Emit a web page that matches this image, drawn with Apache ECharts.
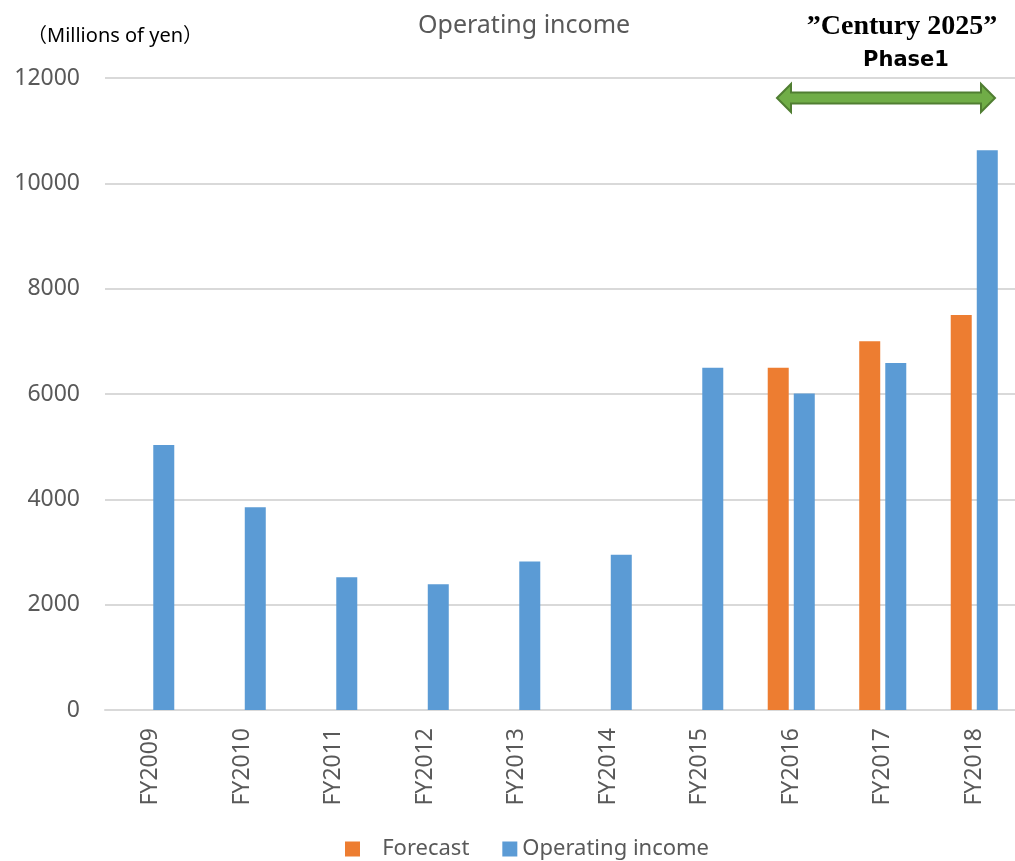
<!DOCTYPE html>
<html>
<head>
<meta charset="utf-8">
<title>Operating income</title>
<script src="https://cdn.jsdelivr.net/npm/echarts@6/dist/echarts.min.js"></script>
<style>
  html, body { margin: 0; padding: 0; background: #fff; }
  #chart { width: 1015px; height: 861px; }
</style>
</head>
<body>
<div id="chart"></div>
<script>
// data (millions of yen)
const years = ["FY2009", "FY2010", "FY2011", "FY2012", "FY2013", "FY2014", "FY2015", "FY2016", "FY2017", "FY2018"];
const forecast = [null, null, null, null, null, null, null, 6500, 7000, 7500];
const operatingIncome = [5030, 3850, 2520, 2390, 2820, 2950, 6500, 6010, 6590, 10630];
const yTicks = { min: 0, max: 12000, step: 2000 };

const SANS = "'Noto Sans', 'Noto Sans CJK JP', sans-serif";
const GREY = "#595959";

const chart = echarts.init(document.getElementById("chart"));

// green double-headed arrow for "Century 2025" phase 1
const ax0 = 777, ax1 = 995, ay = 98, head = 14, headHalf = 14, bodyHalf = 5.5;
const arrowPts = [
  [ax0, ay],
  [ax0 + head, ay - headHalf],
  [ax0 + head, ay - bodyHalf],
  [ax1 - head, ay - bodyHalf],
  [ax1 - head, ay - headHalf],
  [ax1, ay],
  [ax1 - head, ay + headHalf],
  [ax1 - head, ay + bodyHalf],
  [ax0 + head, ay + bodyHalf],
  [ax0 + head, ay + headHalf]
];

const option = {
  animation: false,
  backgroundColor: "#fff",
  // plot area runs a little past the right edge of the picture (cropped original)
  grid: {
    left: 105,
    width: 915,
    top: 78,
    height: 632,
    containLabel: false,
    outerBoundsMode: "none"
  },
  legend: {
    left: 340,
    top: 833,
    icon: "rect",
    itemWidth: 15,
    itemHeight: 15,
    itemGap: 33,
    textStyle: { fontFamily: SANS, fontSize: 22, color: GREY },
    formatter: (name) => (name === "Forecast" ? "   " + name : name),
    data: ["Forecast", "Operating income"]
  },
  xAxis: {
    type: "category",
    data: years,
    axisLine: { show: true, lineStyle: { color: "#d9d9d9", width: 2 } },
    axisTick: { show: false },
    axisLabel: {
      rotate: 90,
      margin: 18,
      fontFamily: SANS,
      fontSize: 23,
      color: GREY
    }
  },
  yAxis: {
    type: "value",
    min: yTicks.min,
    max: yTicks.max,
    interval: yTicks.step,
    axisLine: { show: false },
    axisTick: { show: false },
    splitLine: { lineStyle: { color: "#d9d9d9", width: 2 } },
    axisLabel: {
      margin: 25,
      fontFamily: SANS,
      fontSize: 23,
      color: GREY,
      formatter: (v) => String(v)
    }
  },
  series: [
    {
      name: "Forecast",
      type: "bar",
      data: forecast,
      barWidth: 21,
      barGap: "24%",
      itemStyle: { color: "#ed7d31" }
    },
    {
      name: "Operating income",
      type: "bar",
      data: operatingIncome,
      barWidth: 21,
      barGap: "24%",
      itemStyle: { color: "#5b9bd5" }
    }
  ],
  graphic: [
    {
      type: "text",
      left: 418,
      top: 13,
      style: { text: "Operating income", font: "25px " + SANS, fill: GREY }
    },
    {
      type: "text",
      left: 27,
      top: 26,
      style: { text: "（Millions of yen）", font: "20px " + SANS, fill: "#000" }
    },
    {
      type: "text",
      x: 902,
      y: 27,
      style: {
        text: "\u201dCentury 2025\u201d",
        font: "bold 28px 'Liberation Serif', serif",
        fill: "#000",
        align: "center",
        verticalAlign: "middle"
      }
    },
    {
      type: "text",
      x: 906,
      y: 61,
      style: {
        text: "Phase1",
        font: "bold 21px 'DejaVu Sans', sans-serif",
        fill: "#000",
        align: "center",
        verticalAlign: "middle"
      }
    },
    {
      type: "polygon",
      shape: { points: arrowPts },
      style: { fill: "#70ad47", stroke: "#507e32", lineWidth: 2 }
    }
  ]
};

chart.setOption(option);
</script>
</body>
</html>
